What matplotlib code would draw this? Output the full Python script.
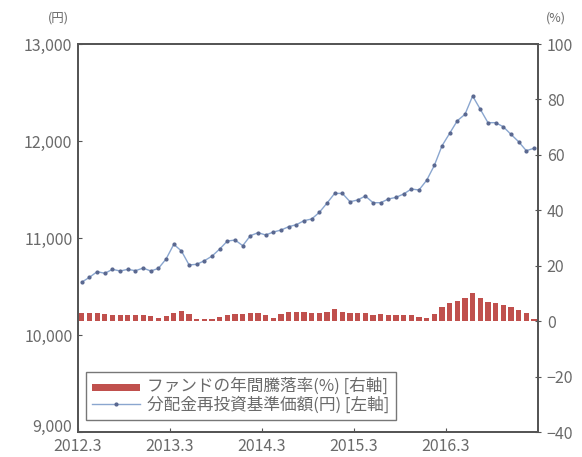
import matplotlib
matplotlib.use("Agg")
import matplotlib.pyplot as plt
import matplotlib.transforms as mtransforms
import numpy as np

plt.rcParams['font.family'] = ['Noto Sans CJK JP', 'DejaVu Sans']

# 月次データ 2012.3 〜 2017.2
meses = np.arange(60)

# 分配金再投資基準価額(円) [左軸]
precio = [10545, 10595, 10653, 10636, 10677, 10660, 10677, 10663, 10690, 10660,
          10687, 10784, 10935, 10866, 10722, 10729, 10766, 10814, 10887, 10969,
          10979, 10921, 11024, 11055, 11031, 11062, 11082, 11117, 11137, 11179,
          11196, 11265, 11360, 11460, 11460, 11374, 11392, 11433, 11364, 11364,
          11402, 11419, 11454, 11505, 11495, 11595, 11748, 11950, 12079, 12209,
          12275, 12464, 12327, 12189, 12189, 12147, 12069, 11993, 11900, 11925]

# ファンドの年間騰落率(%) [右軸]
tasa = [3.0, 3.0, 3.0, 2.6, 2.3, 2.1, 2.3, 2.1, 2.3, 2.0,
        1.3, 2.0, 2.8, 3.5, 2.5, 0.8, 0.8, 0.8, 1.5, 2.2,
        2.6, 2.6, 2.8, 3.0, 2.2, 1.0, 2.5, 3.2, 3.2, 3.2,
        3.0, 3.0, 3.2, 4.3, 3.3, 2.8, 3.0, 3.0, 2.3, 2.5,
        2.3, 2.2, 2.3, 2.2, 1.5, 1.0, 2.5, 5.1, 6.5, 7.3,
        8.3, 10.0, 8.5, 7.0, 6.7, 5.8, 5.2, 4.0, 2.8, 0.8]

etiquetas_x = ["2012.3", "2013.3", "2014.3", "2015.3", "2016.3"]
posiciones_x = [-0.5, 11.5, 23.5, 35.5, 47.5]

gris = "#555555"
texto = "#6a6a6a"

fig = plt.figure(figsize=(5.82, 4.57), dpi=100)
ax = fig.add_axes([0.134, 0.0547, 0.79, 0.849])
ax2 = ax.twinx()

# Barras en el eje derecho
barras = ax2.bar(meses, tasa, width=0.68, color="#c0504d", zorder=2,
                 label="ファンドの年間騰落率(%) [右軸]")
ax2.set_ylim(-40, 100)
ax2.set_yticks([-40, -20, 0, 20, 40, 60, 80, 100])

# Línea en el eje izquierdo
linea, = ax.plot(meses, precio, color="#8aa6cf", linewidth=1.0, marker="o",
                 markersize=2.0, markerfacecolor="#5a6890", markeredgecolor="#5a6890",
                 zorder=3, label="分配金再投資基準価額(円) [左軸]")
ax.set_zorder(ax2.get_zorder() + 1)
ax.patch.set_visible(False)

ax.set_ylim(9000, 13000)
ax.set_yticks([9000, 10000, 11000, 12000, 13000])
ax.set_yticklabels(["9,000", "10,000", "11,000", "12,000", "13,000"])
ax.set_xlim(-0.5, 59.5)
ax.set_xticks(posiciones_x)
ax.set_xticklabels(etiquetas_x)

for eje in (ax, ax2):
    for s in eje.spines.values():
        s.set_color(gris)
        s.set_linewidth(1.3)

ax.tick_params(axis="y", direction="in", length=3, colors=gris, labelcolor=texto,
               labelsize=11.5, pad=4)
ax.tick_params(axis="x", direction="in", length=3, colors=gris, labelcolor=texto,
               labelsize=11.5, pad=4)
ax2.tick_params(axis="y", direction="inout", length=5, colors=gris, labelcolor=texto,
                labelsize=11.5, pad=4)

# 9,000 を少し上げて 2012.3 と重ならないように
t9 = ax.get_yticklabels()[0]
t9.set_va("bottom")
t9.set_transform(t9.get_transform() + mtransforms.ScaledTranslation(0, -3 / 72, fig.dpi_scale_trans))

fig.text(0.118, 0.96, "(円)", color=texto, fontsize=9, ha="right", va="center")
fig.text(0.955, 0.96, "(%)", color=texto, fontsize=9, ha="center", va="center")

leg = ax.legend([barras, linea], [barras.get_label(), linea.get_label()],
                loc="lower left", bbox_to_anchor=(0.017, 0.031), borderaxespad=0,
                fontsize=12, frameon=True, fancybox=False, borderpad=0.35,
                handlelength=2.9, labelspacing=0.1, handletextpad=0.45)
leg.get_frame().set_edgecolor(gris)
leg.get_frame().set_linewidth(1.0)
for t in leg.get_texts():
    t.set_color(texto)
leg.legend_handles[0].set_height(5)

fig.savefig("out.png", dpi=100, facecolor="white")
